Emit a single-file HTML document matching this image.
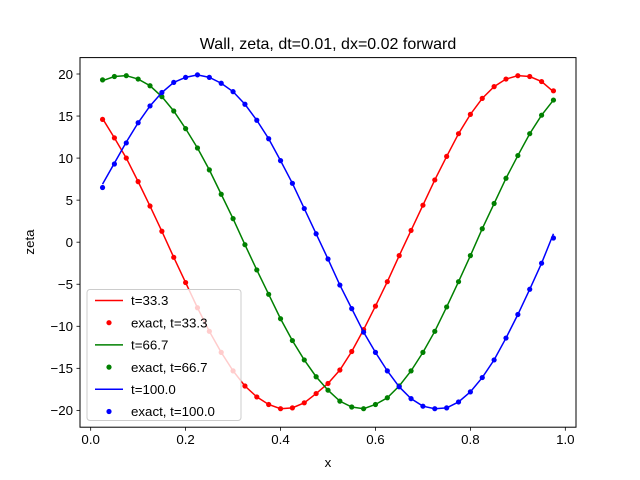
<!DOCTYPE html>
<html><head><meta charset="utf-8"><style>
html,body{margin:0;padding:0;background:#fff;}
svg{display:block;font-family:"Liberation Sans","DejaVu Sans",sans-serif;}
</style></head><body>
<svg id="chart" width="640" height="480" viewBox="0 0 640 480">
<rect width="640" height="480" fill="#fff"/>
<text x="328" y="49" font-size="16" text-anchor="middle">Wall, zeta, dt=0.01, dx=0.02 forward</text>
<g id="plot"></g>
<g id="axes"></g>
<text x="328" y="467" font-size="13.3" text-anchor="middle">x</text>
<text transform="translate(34,242) rotate(-90)" font-size="13.3" text-anchor="middle">zeta</text>
<g id="legend"></g>
</svg>
<script>
const xValues=[0.025,0.05,0.075,0.1,0.125,0.15,0.175,0.2,0.225,0.25,0.275,0.3,0.325,0.35,0.375,0.4,0.425,0.45,0.475,0.5,0.525,0.55,0.575,0.6,0.625,0.65,0.675,0.7,0.725,0.75,0.775,0.8,0.825,0.85,0.875,0.9,0.925,0.95,0.975];
const redExact=[14.6,12.4,10.0,7.2,4.3,1.3,-1.8,-4.8,-7.8,-10.6,-13.1,-15.3,-17.1,-18.4,-19.3,-19.8,-19.7,-19.1,-18.0,-16.8,-15.2,-13.0,-10.4,-7.6,-4.7,-1.6,1.4,4.4,7.4,10.2,12.9,15.2,17.1,18.5,19.4,19.8,19.7,19.1,18.0];
const redLine=[14.7,12.4,10.0,7.2,4.3,1.3,-1.8,-4.8,-7.8,-10.6,-13.1,-15.3,-17.1,-18.4,-19.3,-19.8,-19.7,-19.1,-18.0,-16.8,-15.2,-13.0,-10.4,-7.6,-4.7,-1.6,1.4,4.4,7.4,10.2,12.9,15.2,17.1,18.5,19.4,19.8,19.7,19.1,17.9];
const greenExact=[19.3,19.7,19.8,19.4,18.6,17.3,15.6,13.5,11.2,8.6,5.7,2.8,-0.3,-3.3,-6.2,-9.1,-11.7,-14.0,-16.0,-17.6,-18.9,-19.6,-19.8,-19.3,-18.5,-17.1,-15.3,-13.1,-10.6,-7.7,-4.7,-1.6,1.6,4.6,7.6,10.3,12.9,15.1,16.9];
const greenLine=[19.2,19.7,19.8,19.4,18.6,17.3,15.6,13.5,11.2,8.6,5.7,2.8,-0.3,-3.3,-6.2,-9.1,-11.7,-14.0,-16.0,-17.6,-18.9,-19.6,-19.8,-19.3,-18.5,-17.1,-15.3,-13.1,-10.6,-7.7,-4.7,-1.6,1.6,4.6,7.6,10.3,12.9,15.1,16.9];
const blueExact=[6.5,9.3,11.8,14.2,16.2,17.8,19.0,19.6,19.9,19.6,18.9,17.9,16.4,14.5,12.3,9.7,7.0,4.0,1.0,-2.0,-5.1,-7.9,-10.7,-13.1,-15.3,-17.2,-18.6,-19.5,-19.8,-19.7,-19.0,-17.8,-16.1,-14.0,-11.4,-8.6,-5.6,-2.5,0.5];
const blueLine=[6.9,9.4,11.9,14.2,16.2,17.8,19.0,19.6,19.9,19.6,18.9,17.9,16.4,14.5,12.3,9.7,7.0,4.0,1.0,-2.0,-5.1,-7.9,-10.7,-13.1,-15.3,-17.2,-18.6,-19.5,-19.8,-19.7,-19.0,-17.8,-16.1,-14.0,-11.4,-8.6,-5.6,-2.5,1.0];
const xTickValues=[0.0,0.2,0.4,0.6,0.8,1.0];
const xTickLabels=["0.0","0.2","0.4","0.6","0.8","1.0"];
const yTickValues=[20,15,10,5,0,-5,-10,-15,-20];
const yTickLabels=["20","15","10","5","0","\u22125","\u221210","\u221215","\u221220"];
const legendLabels=["t=33.3","exact, t=33.3","t=66.7","exact, t=66.7","t=100.0","exact, t=100.0"];

const NS="http://www.w3.org/2000/svg";
const L=80,R=576,T=57.6,B=427.2;
const xMin=-0.0225,xMax=1.0225,yMin=-22.0,yMax=21.95;
function sx(v){return L+(v-xMin)/(xMax-xMin)*(R-L);}
function sy(v){return B-(v-yMin)/(yMax-yMin)*(B-T);}
function mk(tag,attrs,parent){const e=document.createElementNS(NS,tag);for(const k in attrs)e.setAttribute(k,attrs[k]);parent.appendChild(e);return e;}
const plot=document.getElementById('plot');
const axes=document.getElementById('axes');
const legend=document.getElementById('legend');

function drawLine(vals,color,name){
  const d=vals.map((v,i)=>(i?'L':'M')+sx(xValues[i]).toFixed(2)+' '+sy(v).toFixed(2)).join(' ');
  const p=mk('path',{d:d,fill:'none',stroke:color,'stroke-width':1.5},plot);
  
  
}
function drawDots(vals,color,name){
  vals.forEach((v,i)=>{
    const c=mk('circle',{cx:sx(xValues[i]).toFixed(2),cy:sy(v).toFixed(2),r:2.6,fill:color},plot);
    
    
  });
}
drawLine(redLine,'#ff0000','line-t33');
drawDots(redExact,'#ff0000','exact-point-t33');
drawLine(greenLine,'#008000','line-t67');
drawDots(greenExact,'#008000','exact-point-t67');
drawLine(blueLine,'#0000ff','line-t100');
drawDots(blueExact,'#0000ff','exact-point-t100');

const frame=mk('rect',{x:L,y:T,width:R-L,height:B-T,fill:'none',stroke:'#000','stroke-width':1},axes);


xTickValues.forEach((v,i)=>{
  const x=sx(v);
  const t=mk('line',{x1:x,y1:B,x2:x,y2:B+3.5,stroke:'#000','stroke-width':0.8},axes);
  
  
  const lb=mk('text',{x:x,y:B+17,'font-size':13.3,'text-anchor':'middle'},axes);
  lb.textContent=xTickLabels[i];
  
  
});
yTickValues.forEach((v,i)=>{
  const y=sy(v);
  const t=mk('line',{x1:L-3.5,y1:y,x2:L,y2:y,stroke:'#000','stroke-width':0.8},axes);
  
  
  const lb=mk('text',{x:L-7,y:y+4.8,'font-size':13.3,'text-anchor':'end'},axes);
  lb.textContent=yTickLabels[i];
  
  
});

const lbox=mk('rect',{x:87,y:289.5,width:154,height:131,rx:3,fill:'#fff','fill-opacity':0.8,stroke:'#ccc','stroke-width':1},legend);


const lcolors=['#ff0000','#ff0000','#008000','#008000','#0000ff','#0000ff'];
legendLabels.forEach((s,i)=>{
  const y=300.5+i*22.2;
  const g=mk('g',{},legend);
  
  
  if(i%2===0){mk('line',{x1:95,y1:y,x2:123,y2:y,stroke:lcolors[i],'stroke-width':1.5},g);}
  else{mk('circle',{cx:109,cy:y,r:2.6,fill:lcolors[i]},g);}
  const t=mk('text',{x:131,y:y+4.7,'font-size':13.3},g);
  t.textContent=s;
});
</script>
</body></html>
